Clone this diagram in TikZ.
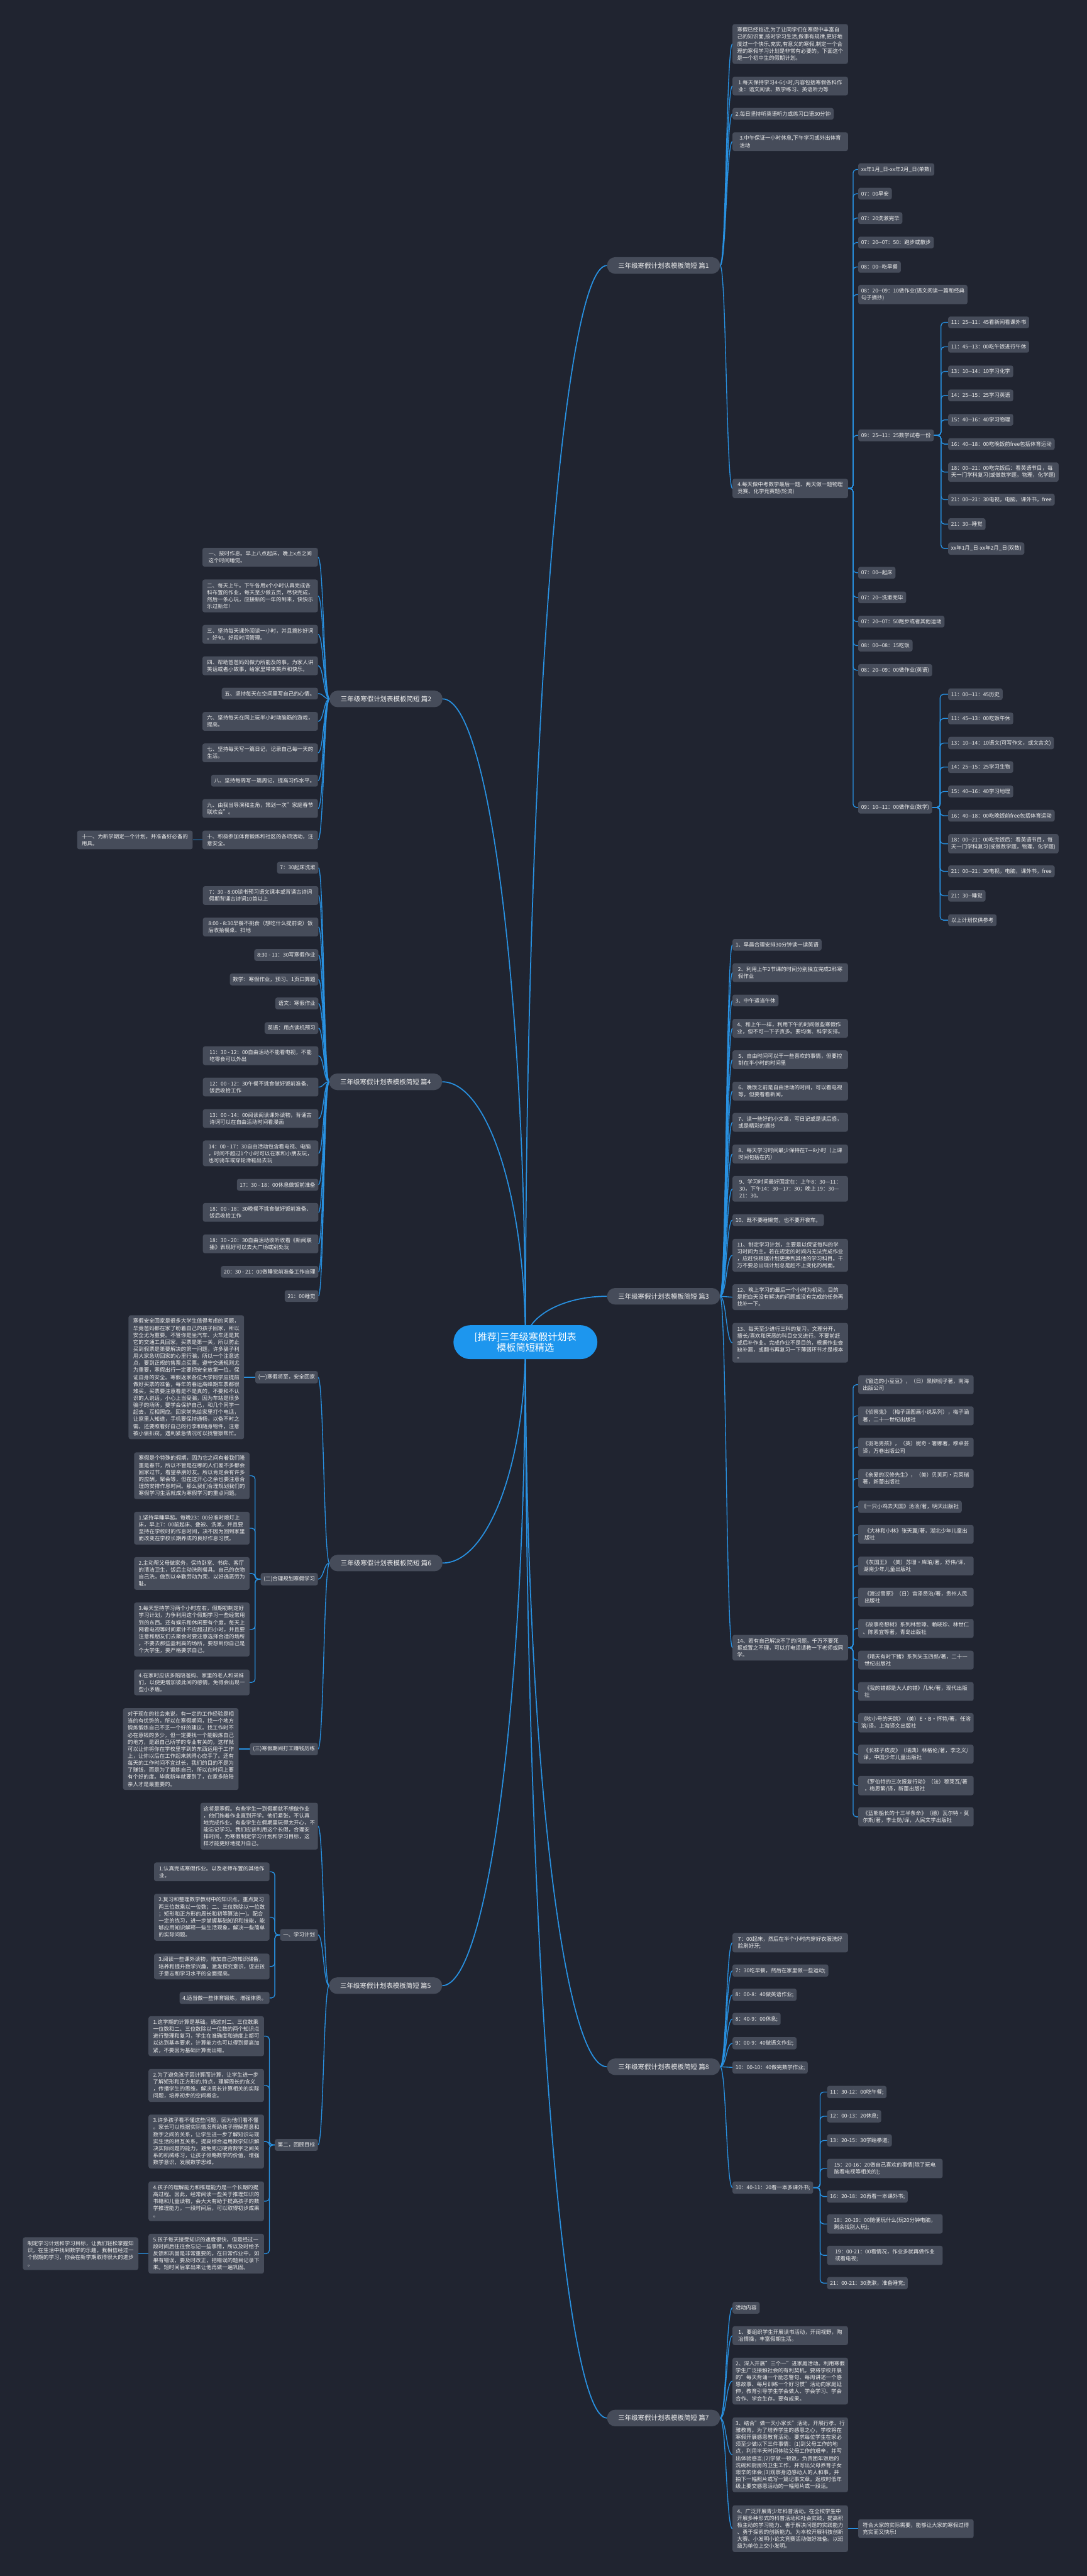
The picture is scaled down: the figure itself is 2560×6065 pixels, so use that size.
\documentclass[tikz,border=0pt]{standalone}
\usepackage{fontspec}
\setmainfont{Noto Sans CJK SC}
\usetikzlibrary{calc,backgrounds}
\definecolor{bgc}{RGB}{32,36,48}
\definecolor{nodec}{RGB}{70,76,90}
\definecolor{linkc}{RGB}{40,145,225}
\definecolor{ctrc}{RGB}{29,150,238}
\definecolor{txtc}{RGB}{238,238,238}
\tikzset{
 box/.style={fill=nodec, rounded corners=5pt, text=txtc, font=\fontsize{12.5}{16.5}\selectfont, inner xsep=7pt, inner ysep=8pt, align=left},
 wbox/.style={box, minimum width=272pt},
 branch/.style={fill=nodec, rounded corners=19pt, text=txtc, font=\fontsize{15.5}{19}\selectfont, minimum width=266pt, minimum height=39pt, inner sep=0pt},
 ctrnode/.style={fill=ctrc, rounded corners=40pt, text=white, font=\fontsize{22.5}{25.5}\selectfont, minimum width=339pt, minimum height=80pt, align=center},
 lk/.style={draw=linkc, line width=2pt},
 mlk/.style={draw=linkc, line width=2.6pt},
}
\newcommand\LinkR[2]{\draw[lk] (#1.east) .. controls ($(#1.east)!0.5!(#1.east -| #2.west)$) and ($(#2.west)!0.5!(#2.west -| #1.east)$) .. (#2.west);}
\newcommand\LinkL[2]{\draw[lk] (#1.west) .. controls ($(#1.west)!0.5!(#1.west -| #2.east)$) and ($(#2.east)!0.5!(#2.east -| #1.west)$) .. (#2.east);}
\newcommand\ElbR[2]{\draw[lk,rounded corners=8pt] (#1.east) -- ($(#1.east)!0.5!(#1.east -| #2.west)$) |- (#2.west);}
\newcommand\ElbL[2]{\draw[lk,rounded corners=8pt] (#1.west) -- ($(#1.west)!0.5!(#1.west -| #2.east)$) |- (#2.east);}
\newcommand\MainR[1]{\draw[mlk] (ctr.center) .. controls ($(ctr.center)!0.55!(ctr.center |- #1.west)$) and ($(#1.west)!0.55!(ctr.center |- #1.west)$) .. (#1.west);}
\newcommand\MainL[1]{\draw[mlk] (ctr.center) .. controls ($(ctr.center)!0.55!(ctr.center |- #1.east)$) and ($(#1.east)!0.55!(ctr.center |- #1.east)$) .. (#1.east);}
\begin{document}
\begin{tikzpicture}[x=1pt,y=-1pt]
\useasboundingbox (0,0) rectangle (2560,6065);
% ---------------- center and branches
\node[ctrnode] (ctr) at (1237.5,3160) {[推荐]三年级寒假计划表\\模板简短精选};
\node[branch,anchor=east] (br1) at (1696,625) {三年级寒假计划表模板简短 篇1};
\node[branch,anchor=west] (br2) at (776,1645.5) {三年级寒假计划表模板简短 篇2};
\node[branch,anchor=east] (br3) at (1696,3052) {三年级寒假计划表模板简短 篇3};
\node[branch,anchor=west] (br4) at (775,2547) {三年级寒假计划表模板简短 篇4};
\node[branch,anchor=west] (br5) at (775,4675) {三年级寒假计划表模板简短 篇5};
\node[branch,anchor=west] (br6) at (776,3680) {三年级寒假计划表模板简短 篇6};
\node[branch,anchor=east] (br7) at (1696,5693) {三年级寒假计划表模板简短 篇7};
\node[branch,anchor=east] (br8) at (1696,4866) {三年级寒假计划表模板简短 篇8};
% ---------------- 篇1
\node[wbox,anchor=west] (A0) at (1725,103.5) {寒假已经临近,为了让同学们在寒假中丰富自\\己的知识面,按时学习生活,做事有规律,更好地\\度过一个快乐,充实,有意义的寒假,制定一个合\\理的寒假学习计划是非常有必要的。下面这个\\是一个初中生的假期计划。};
\node[wbox,anchor=west] (A1) at (1725,202.5) {1.每天保持学习4-6小时,内容包括寒假各科作\\业：语文阅读、数学练习、英语听力等};
\node[box,anchor=west] (A2) at (1725,268) {2.每日坚持听英语听力或练习口语30分钟};
\node[wbox,anchor=west] (A3) at (1725,333.5) {3.中午保证一小时休息,下午学习或外出体育\\活动};
\node[wbox,anchor=west] (A4) at (1725,1150) {4.每天做中考数学最后一题、两天做一题物理\\竞赛、化学竞赛题(轮流)};
\node[box,anchor=west] (Aa1) at (2021,399) {xx年1月\_日-xx年2月\_日(单数)};
\node[box,anchor=west] (Aa2) at (2021,456) {07：00早安};
\node[box,anchor=west] (Aa3) at (2021,513.5) {07：20洗漱完毕};
\node[box,anchor=west] (Aa4) at (2021,571) {07：20-{}-07：50：跑步或散步};
\node[box,anchor=west] (Aa5) at (2021,628.5) {08：00-{}-吃早餐};
\node[box,anchor=west] (Aa6) at (2021,693.5) {08：20-{}-09：10做作业(语文阅读一篇和经典\\句子摘抄)};
\node[box,anchor=west] (Aa7) at (2021,1025) {09：25-{}-11：25数学试卷一份};
\node[box,anchor=west] (Aa8) at (2021,1348.5) {07：00-{}-起床};
\node[box,anchor=west] (Aa9) at (2021,1406.5) {07：20-{}-洗漱完毕};
\node[box,anchor=west] (Aa10) at (2021,1463.5) {07：20-{}-07：50跑步或者其他运动};
\node[box,anchor=west] (Aa11) at (2021,1520) {08：00-{}-08：15吃饭};
\node[box,anchor=west] (Aa12) at (2021,1578) {08：20-{}-09：00做作业(英语)};
\node[box,anchor=west] (Aa13) at (2021,1901) {09：10-{}-11：00做作业(数学)};
\node[box,anchor=west] (Ab1) at (2233,759) {11：25-{}-11：45看新闻看课外书};
\node[box,anchor=west] (Ab2) at (2233,816.5) {11：45-{}-13：00吃午饭进行午休};
\node[box,anchor=west] (Ab3) at (2233,874.5) {13：10-{}-14：10学习化学};
\node[box,anchor=west] (Ab4) at (2233,931) {14：25-{}-15：25学习英语};
\node[box,anchor=west] (Ab5) at (2233,988.5) {15：40-{}-16：40学习物理};
\node[box,anchor=west] (Ab6) at (2233,1045.5) {16：40-{}-18：00吃晚饭前free包括体育运动};
\node[box,anchor=west] (Ab7) at (2233,1111.5) {18：00-{}-21：00吃完饭后：看英语节目，每\\天一门学科复习(或做数学题，物理，化学题)};
\node[box,anchor=west] (Ab8) at (2233,1176.5) {21：00-{}-21：30电视，电脑，课外书，free};
\node[box,anchor=west] (Ab9) at (2233,1234) {21：30-{}-睡觉};
\node[box,anchor=west] (Ab10) at (2233,1291.5) {xx年1月\_日-xx年2月\_日(双数)};
\node[box,anchor=west] (Ac1) at (2233,1634.5) {11：00-{}-11：45历史};
\node[box,anchor=west] (Ac2) at (2233,1691.5) {11：45-{}-13：00吃饭午休};
\node[box,anchor=west] (Ac3) at (2233,1749.5) {13：10-{}-14：10语文(可写作文，或文言文)};
\node[box,anchor=west] (Ac4) at (2233,1806) {14：25-{}-15：25学习生物};
\node[box,anchor=west] (Ac5) at (2233,1863.5) {15：40-{}-16：40学习地理};
\node[box,anchor=west] (Ac6) at (2233,1920.5) {16：40-{}-18：00吃晚饭前free包括体育运动};
\node[box,anchor=west] (Ac7) at (2233,1986.5) {18：00-{}-21：00吃完饭后：看英语节目，每\\天一门学科复习(或做数学题，物理，化学题)};
\node[box,anchor=west] (Ac8) at (2233,2051.5) {21：00-{}-21：30电视，电脑，课外书，free};
\node[box,anchor=west] (Ac9) at (2233,2109) {21：30-{}-睡觉};
\node[box,anchor=west] (Ac10) at (2233,2166.5) {以上计划仅供参考};
% ---------------- 篇3
\node[box,anchor=west] (C1) at (1725,2224.5) {1、早晨合理安排30分钟读一读英语};
\node[wbox,anchor=west] (C2) at (1725,2290) {2、利用上午2节课的时间分别独立完成2科寒\\假作业};
\node[box,anchor=west] (C3) at (1725,2355.5) {3、中午适当午休};
\node[wbox,anchor=west] (C4) at (1725,2421) {4、和上午一样，利用下午的时间做些寒假作\\业，但不可一下子贪多。要均衡、科学安排。};
\node[wbox,anchor=west] (C5) at (1725,2495) {5、自由时间可以干一些喜欢的事情，但要控\\制在半小时的时间里};
\node[wbox,anchor=west] (C6) at (1725,2569) {6、晚饭之前是自由活动的时间，可以看电视\\等，但要看看新闻。};
\node[wbox,anchor=west] (C7) at (1725,2642.5) {7、读一些好的小文章，写日记或是读后感，\\或是精彩的摘抄};
\node[wbox,anchor=west] (C8) at (1725,2717) {8、每天学习时间最少保持在7—8小时（上课\\时间包括在内）};
\node[wbox,anchor=west] (C9) at (1725,2799) {9、学习时间最好固定在：上午8：30—11：\\30，下午14：30—17：30；晚上 19：30—\\21：30。};
\node[box,anchor=west] (C10) at (1725,2872.5) {10、既不要睡懒觉，也不要开夜车。};
\node[wbox,anchor=west] (C11) at (1725,2955.5) {11、制定学习计划，主要是以保证每科的学\\习时间为主。若在规定的时间内无法完成作业\\，应赶快根据计划更换到其他的学习科目。千\\万不要总出现计划总是赶不上变化的局面。};
\node[wbox,anchor=west] (C12) at (1725,3054) {12、晚上学习的最后一个小时为机动，目的\\是把白天没有解决的问题或没有完成的任务再\\找补一下。};
\node[wbox,anchor=west] (C13) at (1725,3161.5) {13、每天至少进行三科的复习，文理分开，\\擅长/喜欢和厌恶的科目交叉进行。不要前赶\\或后补作业。完成作业不是目的，根据作业查\\缺补漏，或翻书再复习一下薄弱环节才是根本\\。};
\node[wbox,anchor=west] (C14) at (1725,3879.5) {14、若有自己解决不了的问题，千万不要死\\抠或置之不理，可以打电话请教一下老师或同\\学。};
\node[wbox,anchor=west] (K1) at (2021,3260) {《窗边的小豆豆》，（日）黑柳彻子著，南海\\出版公司};
\node[wbox,anchor=west] (K2) at (2021,3333.5) {《侦察鬼》（梅子涵图画小说系列），梅子涵\\著，二十一世纪出版社};
\node[wbox,anchor=west] (K3) at (2021,3407.5) {《羽毛男孩》，（英）妮奇·箸娜著，穆卓芸\\译，万卷出版公司};
\node[wbox,anchor=west] (K4) at (2021,3481) {《亲爱的汉修先生》，（美）贝芙莉·克莱瑞\\著，新蕾出版社};
\node[box,anchor=west] (K5) at (2021,3547.5) {《一只小鸡去天国》汤汤/著，明天出版社};
\node[wbox,anchor=west] (K6) at (2021,3612.5) {《大林和小林》张天翼/著，湖北少年儿童出\\版社};
\node[wbox,anchor=west] (K7) at (2021,3687) {《灰国王》（美）苏珊·库珀/著，舒伟/译，\\湖南少年儿童出版社};
\node[wbox,anchor=west] (K8) at (2021,3760.5) {《渡过雪原》（日）宫泽贤治/著，贵州人民\\出版社};
\node[wbox,anchor=west] (K9) at (2021,3834) {《故事奇想树》系列林哲璋、赖晓珍、林世仁\\、陈素宜等著，青岛出版社};
\node[wbox,anchor=west] (K10) at (2021,3908.5) {《晴天有时下猪》系列矢玉四郎/著，二十一\\世纪出版社};
\node[wbox,anchor=west] (K11) at (2021,3982.5) {《我的错都是大人的错》几米/著，现代出版\\社};
\node[wbox,anchor=west] (K12) at (2021,4056) {《吹小号的天鹅》（美）E·B·怀特/著，任溶\\溶/译，上海译文出版社};
\node[wbox,anchor=west] (K13) at (2021,4130) {《长袜子皮皮》（瑞典）林格伦/著，李之义/\\译，中国少年儿童出版社};
\node[wbox,anchor=west] (K14) at (2021,4204) {《罗伯特的三次报复行动》（法）穆莱瓦/著\\，梅思繁/译，新蕾出版社};
\node[wbox,anchor=west] (K15) at (2021,4277.5) {《蓝熊船长的十三半条命》（德）瓦尔特·莫\\尔斯/著，李士勋/译，人民文学出版社};
% ---------------- 篇8
\node[wbox,anchor=west] (H1) at (1725,4574) {7：00起床，然后在半个小时内穿好衣服洗好\\脸刷好牙;};
\node[box,anchor=west] (H2) at (1725,4639.5) {7：30吃早餐，然后在家里做一些运动;};
\node[box,anchor=west] (H3) at (1725,4696.5) {8：00-8：40做英语作业;};
\node[box,anchor=west] (H4) at (1725,4753.5) {8：40-9：00休息;};
\node[box,anchor=west] (H5) at (1725,4810.5) {9：00-9：40做语文作业;};
\node[box,anchor=west] (H6) at (1725,4867.5) {10：00-10：40做完数学作业;};
\node[box,anchor=west] (H7) at (1725,5150.5) {10：40-11：20看一本多课外书;};
\node[box,anchor=west] (F1) at (1948,4925.5) {11：30-12：00吃午餐;};
\node[box,anchor=west] (F2) at (1948,4982.5) {12：00-13：20休息;};
\node[box,anchor=west] (F3) at (1948,5039.5) {13：20-15：30学跆拳道;};
\node[wbox,anchor=west] (F4) at (1948,5105.5) {15：20-16：20做自己喜欢的事情(除了玩电\\脑看电视等相关的);};
\node[box,anchor=west] (F5) at (1948,5171.5) {16：20-18：20再看一本课外书;};
\node[wbox,anchor=west] (F6) at (1948,5236) {18：20-19：00随便玩什么(玩20分钟电脑，\\剩余找别人玩);};
\node[wbox,anchor=west] (F7) at (1948,5310) {19：00-21：00看情况，作业多就再做作业\\或看电视;};
\node[box,anchor=west] (F8) at (1948,5375.5) {21：00-21：30洗漱，准备睡觉;};
% ---------------- 篇7
\node[box,anchor=west] (G1) at (1725,5433.5) {活动内容};
\node[wbox,anchor=west] (G2) at (1725,5499) {1、要组织学生开展读书活动，开阔视野，陶\\冶情操，丰富假期生活。};
\node[wbox,anchor=west] (G3) at (1725,5606) {2、深入开展"三个一"进家庭活动。利用寒假\\学生广泛接触社会的有利契机，要将学校开展\\的"每天背诵一个励志警句、每周讲述一个感\\恩故事、每月训练一个好习惯"活动向家庭延\\伸，教育引导学生学会做人、学会学习、学会\\合作、学会生存。要有成果。};
\node[wbox,anchor=west] (G4) at (1725,5779.5) {3、结合"做一天小家长"活动。开展行孝、行\\雅教育。为了培养学生的感恩之心，学校将在\\寒假开展感恩教育活动，要求每位学生在家必\\须至少做以下三件事情：(1)到父母工作的地\\点，利用半天时间体验父母工作的艰辛，并写\\出体验感言;(2)学做一顿饭，负责团年饭后的\\洗碗和厨房的卫生工作，并写出父母养育子女\\艰辛的体会;(3)观察身边感动人的人和事，并\\拍下一幅照片或写一篇记事文章。返校时低年\\级上要交感恩活动的一幅照片或一段话。};
\node[wbox,anchor=west] (G5) at (1725,5953.5) {4、广泛开展青少年科普活动。在全校学生中\\开展多种形式的科普活动和社会实践，提高积\\极主动的学习能力、善于解决问题的实践能力\\、勇于探索的创新能力。为本校开展科技创新\\大赛、小发明小论文竞赛活动做好准备。以班\\级为单位上交小发明。};
\node[wbox,anchor=west] (G6) at (2021,5953.5) {符合大家的实际需要，能够让大家的寒假过得\\充实而又快乐!};
% ---------------- 篇2
\node[wbox,anchor=east] (S1) at (749,1312) {一、按时作息。早上八点起床，晚上x点之间\\这个时间睡觉。};
\node[wbox,anchor=east] (S2) at (749,1403) {二、每天上午。下午各用x个小时认真完成各\\科布置的作业，每天至少做五页，尽快完成，\\然后一条心玩，应接新的一年的到来，快快乐\\乐过新年!};
\node[wbox,anchor=east] (S3) at (749,1493.5) {三、坚持每天课外阅读一小时，并且摘抄好词\\。好句。好段时间管理。};
\node[wbox,anchor=east] (S4) at (749,1567.5) {四、帮助爸爸妈妈做力所能及的事。为家人讲\\笑话或者小故事，给家里带来笑声和快乐。};
\node[box,anchor=east] (S5) at (749,1633) {五、坚持每天在空间里写自己的心情。};
\node[wbox,anchor=east] (S6) at (749,1698.5) {六、坚持每天在网上玩半小时动脑筋的游戏，\\提高。};
\node[wbox,anchor=east] (S7) at (749,1772.5) {七、坚持每天写一篇日记，记录自己每一天的\\生活。};
\node[box,anchor=east] (S8) at (749,1838) {八、坚持每周写一篇周记，提高习作水平。};
\node[wbox,anchor=east] (S9) at (749,1903.5) {九、由我当导演和主角，策划一次"家庭春节\\联欢会"。};
\node[wbox,anchor=east] (S10) at (749,1977.5) {十、积极参加体育锻炼和社区的各项活动，注\\意安全。};
\node[wbox,anchor=east] (S11) at (454,1977.5) {十一、为新学期定一个计划，并准备好必备的\\用具。};
% ---------------- 篇4
\node[box,anchor=east] (T1) at (750,2043) {7：30起床洗漱};
\node[wbox,anchor=east] (T2) at (750,2108.5) {7：30 - 8:00读书预习语文课本或背诵古诗词\\假期背诵古诗词10首以上};
\node[wbox,anchor=east] (T3) at (750,2182.5) {8:00 - 8:30早餐不挑食（想吃什么提前说）饭\\后收拾餐桌、扫地};
\node[box,anchor=east] (T4) at (750,2248.5) {8:30 - 11：30写寒假作业};
\node[box,anchor=east] (T5) at (750,2306) {数学：寒假作业，预习、1页口算题};
\node[box,anchor=east] (T6) at (750,2362.5) {语文：寒假作业};
\node[box,anchor=east] (T7) at (750,2420.5) {英语：用点读机预习};
\node[wbox,anchor=east] (T8) at (750,2485.5) {11：30 - 12：00自由活动不能看电视，不能\\吃零食可以外出};
\node[wbox,anchor=east] (T9) at (750,2559.5) {12：00 - 12：30午餐不挑食做好饭前准备、\\饭后收拾工作};
\node[wbox,anchor=east] (T10) at (750,2633.5) {13：00 - 14：00阅读阅读课外读物，背诵古\\诗词可以在自由活动时间看漫画};
\node[wbox,anchor=east] (T11) at (750,2715.5) {14：00 - 17：30自由活动包含看电视、电脑\\，时间不超过1个小时可以在家和小朋友玩，\\也可骑车或穿轮滑鞋出去玩};
\node[box,anchor=east] (T12) at (750,2789.5) {17：30 - 18：00休息做饭前准备};
\node[wbox,anchor=east] (T13) at (750,2854.5) {18：00 - 18：30晚餐不挑食做好饭前准备、\\饭后收拾工作};
\node[wbox,anchor=east] (T14) at (750,2928.5) {18：30 - 20：30自由活动收听收看《新闻联\\播》表现好可以去大广场或别处玩};
\node[box,anchor=east] (T15) at (750,2994.5) {20：30 - 21：00做睡觉前准备工作自理};
\node[box,anchor=east] (T16) at (750,3051.5) {21：00睡觉};
% ---------------- 篇6
\node[box,anchor=east] (U1) at (749,3242.5) {(一)寒假将至，安全回家};
\node[wbox,anchor=east] (U1a) at (575,3242.5) {寒假安全回家是很多大学生值得考虑的问题，\\毕竟爸妈都在家了盼着自己的孩子回家，所以\\安全尤为重要。不管你是坐汽车、火车还是其\\它的交通工具回家，买票是第一关，所以防止\\买到假票是第要解决的第一问题，许多骗子利\\用大家急切回家的心里行骗，所以一个注意这\\点，要到正规的售票点买票。遵守交通规则尤\\为重要，寒假出行一定要把安全放第一位，保\\证自身的安全。寒假返家各位大学同学应提前\\做好买票的准备，每年的春运高峰期车票都很\\难买，买票要注意看是不是真的，不要和不认\\识的人说话，小心上当受骗，因为车站是很多\\骗子的场所，要学会保护自己，和几个同学一\\起去，互相照应。回家前先给家里打个电话，\\让家里人知道，手机要保持通畅，以备不时之\\需。还要照看好自己的行李和随身物件，注意\\被小偷扒窃。遇到紧急情况可以找警察帮忙。};
\node[box,anchor=east] (U2) at (749,3718) {(二)合理规划寒假学习};
\node[wbox,anchor=east] (V1) at (588,3474.5) {寒假是个特殊的假期，因为它之间有着我们隆\\重是春节，所以不管是在哪的人们差不多都会\\回家过节，看望亲朋好友。所以肯定会有许多\\的应酬，聚会等，但在这开心之余也要注意合\\理的安排作息时间。那么我们合理规划我们的\\寒假学习生活就成为寒假学习的重点问题。};
\node[wbox,anchor=east] (V2) at (588,3598) {1.坚持早睡早起。每晚23：00分准时熄灯上\\床，早上7：00前起床、叠被、洗漱，并且要\\坚持在学校时的作息时间，决不因为回到家里\\而改变在学校长期养成的良好作息习惯。};
\node[wbox,anchor=east] (V3) at (588,3704.5) {2.主动帮父母做家务，保持卧室、书房、客厅\\的清洁卫生，饭后主动洗刷餐具。自己的衣物\\自己洗，做到以辛勤劳动为荣，以好逸恶劳为\\耻。};
\node[wbox,anchor=east] (V4) at (588,3836.5) {3.每天坚持学习两个小时左右，假期初制定好\\学习计划，力争利用这个假期学习一些经常用\\到的东西。还有娱乐和休闲要有个度，每天上\\网看电视等时间累计不应超过四小时，并且要\\注意和朋友们去聚会时要注意选择合适的场所\\，不要去那些盈利高的场所，要想到你自己是\\个大学生，要严格要求自己。};
\node[wbox,anchor=east] (V5) at (588,3961) {4.在家时应该多陪陪爸妈、家里的老人和弟妹\\们，以便更增加彼此间的感情，免得会出现一\\些小矛盾。};
\node[box,anchor=east] (U3) at (749,4118) {(三)寒假期间打工赚钱历练};
\node[wbox,anchor=east] (U3a) at (562,4118) {对于现在的社会来说，有一定的工作经验是相\\当的有优势的，所以在寒假期间，找一个地方\\锻炼锻炼自己不乏一个好的建议。找工作时不\\必在意钱的多少，但一定要找一个能锻炼自己\\的地方，是跟自己所学的专业有关的，这样就\\可以让你将你在学校里学到的东西运用于工作\\上，让你以后在工作起来就得心应手了。还有\\每天的工作时间不宜过长，我们的目的不是为\\了赚钱，而是为了锻炼自己，所以在时间上要\\有个好的度。毕竟新年就要到了，在家多陪陪\\亲人才是最重要的。};
% ---------------- 篇5
\node[wbox,anchor=east] (W1) at (749,4299.5) {这将是寒假。有些学生一到假期就不想做作业\\，他们拖着作业直到开学。他们紧张，不认真\\地完成作业。有些学生在假期里玩得太开心，不\\能忘记学习。我们应该利用这个长假，合理安\\排时间，为寒假制定学习计划和学习目标，这\\样才能更好地提升自己。};
\node[box,anchor=east] (W2) at (749,4555.5) {一、学习计划};
\node[wbox,anchor=east] (X1) at (635,4407) {1.认真完成寒假作业。以及老师布置的其他作\\业。};
\node[wbox,anchor=east] (X2) at (635,4514) {2.复习和整理数学教材中的知识点。重点复习\\两三位数乘以一位数；二、三位数除以一位数\\；矩形和正方形的周长和初等算法(一)。配合\\一定的练习，进一步掌握基础知识和技能，能\\够应用知识解释一些生活现象，解决一些简单\\的实际问题。};
\node[wbox,anchor=east] (X3) at (635,4630) {3.阅读一些课外读物，增加自己的知识储备，\\培养和提升数学兴趣，激发探究意识，促进孩\\子意志和学习水平的全面提高。};
\node[box,anchor=east] (X4) at (635,4704) {4.适当做一些体育锻炼，增强体质。};
\node[box,anchor=east] (W3) at (749,5050) {第二，回顾目标};
\node[wbox,anchor=east] (Y1) at (622,4794) {1.这学期的计算是基础。通过对二、三位数乘\\一位数和二、三位数除以一位数的两个知识点\\进行整理和复习，学生在准确度和速度上都可\\以达到基本要求，计算能力也可以得到提高加\\紧，不要因为基础计算而出错。};
\node[wbox,anchor=east] (Y2) at (622,4910) {2.为了避免孩子因计算而计算，让学生进一步\\了解矩形和正方形的.特点，理解周长的含义\\，传播学生的思维，解决周长计算相关的实际\\问题，培养初步的空间概念。};
\node[wbox,anchor=east] (Y3) at (622,5042) {3.许多孩子看不懂这些问题，因为他们看不懂\\。家长可以根据实际情况帮助孩子理解题意和\\数字之间的关系，让学生进一步了解知识与现\\实生活的相互关系，提高综合运用数学知识解\\决实际问题的能力，避免死记硬背数字之间关\\系的机械练习，让孩子领略数学的价值，增强\\数学意识，发展数学思维。};
\node[wbox,anchor=east] (Y4) at (622,5182.5) {4.孩子的理解能力和推理能力是一个长期的提\\高过程。因此，经常阅读一些关于推理知识的\\书籍和儿童读物，会大大有助于提高孩子的数\\学推理能力。一段时间后，可以取得初步成果\\。};
\node[wbox,anchor=east] (Y5) at (622,5306) {5.孩子每天接受知识的速度很快，但是经过一\\段时间后往往会忘记一些事情，所以及时给予\\反馈和巩固是非常重要的。在日常作业中，如\\果有错误，要及时改正，把错误的题目记录下\\来。短时间后拿出来让他再做一遍巩固。};
\node[wbox,anchor=east] (Y6) at (326,5306) {制定学习计划和学习目标，让我们轻松掌握知\\识，在生活中找到数学的乐趣。我相信经过一\\个假期的学习，你会在新学期取得很大的进步\\。};
% ---------------- connectors
\begin{pgfonlayer}{background}
\fill[bgc] (0,0) rectangle (2560,6065);
\MainR{br1} \MainR{br3} \MainR{br8} \MainR{br7}
\MainL{br2} \MainL{br4} \MainL{br6} \MainL{br5}
\foreach \c in {A0,A1,A2,A3,A4} {\LinkR{br1}{\c}}
\foreach \c in {Aa1,Aa2,Aa3,Aa4,Aa5,Aa6,Aa7,Aa8,Aa9,Aa10,Aa11,Aa12,Aa13} {\ElbR{A4}{\c}}
\foreach \c in {Ab1,Ab2,Ab3,Ab4,Ab5,Ab6,Ab7,Ab8,Ab9,Ab10} {\ElbR{Aa7}{\c}}
\foreach \c in {Ac1,Ac2,Ac3,Ac4,Ac5,Ac6,Ac7,Ac8,Ac9,Ac10} {\ElbR{Aa13}{\c}}
\foreach \c in {C1,C2,C3,C4,C5,C6,C7,C8,C9,C10,C11,C12,C13,C14} {\LinkR{br3}{\c}}
\foreach \c in {K1,K2,K3,K4,K5,K6,K7,K8,K9,K10,K11,K12,K13,K14,K15} {\ElbR{C14}{\c}}
\foreach \c in {H1,H2,H3,H4,H5,H6,H7} {\LinkR{br8}{\c}}
\foreach \c in {F1,F2,F3,F4,F5,F6,F7,F8} {\ElbR{H7}{\c}}
\foreach \c in {G1,G2,G3,G4,G5} {\LinkR{br7}{\c}}
\draw[lk] (G5.east) -- (G6.west);
\foreach \c in {S1,S2,S3,S4,S5,S6,S7,S8,S9,S10} {\LinkL{br2}{\c}}
\draw[lk] (S10.west) -- (S11.east);
\foreach \c in {T1,T2,T3,T4,T5,T6,T7,T8,T9,T10,T11,T12,T13,T14,T15,T16} {\LinkL{br4}{\c}}
\foreach \c in {U1,U2,U3} {\LinkL{br6}{\c}}
\draw[lk] (U1.west) -- (U1a.east);
\draw[lk] (U3.west) -- (U3a.east);
\foreach \c in {V1,V2,V3,V4,V5} {\ElbL{U2}{\c}}
\foreach \c in {W1,W2,W3} {\LinkL{br5}{\c}}
\foreach \c in {X1,X2,X3,X4} {\ElbL{W2}{\c}}
\foreach \c in {Y1,Y2,Y3,Y4,Y5} {\ElbL{W3}{\c}}
\draw[lk] (Y5.west) -- (Y6.east);
\end{pgfonlayer}
\end{tikzpicture}
\end{document}
